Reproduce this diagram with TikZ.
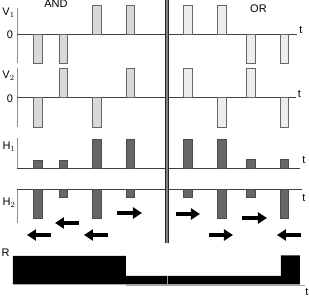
\documentclass[tikz,border=0pt]{standalone}
\usepackage{fontspec}
\setmainfont{Liberation Sans}
\usetikzlibrary{arrows.meta}
\tikzset{
  lbl/.style={inner sep=0pt, font=\fontsize{11}{13}\selectfont},
  haxis/.style={draw=black!75, line width=0.6pt},
  vaxis/.style={draw=black!45, line width=0.6pt},
  vbarand/.style={fill=black!15, draw=black!60, line width=0.6pt},
  vbaror/.style={fill=black!7, draw=black!60, line width=0.6pt},
  hbar/.style={fill=black!60, draw=black!70, line width=0.5pt},
  bigarrow/.style={line width=4.2pt, -{Triangle[length=9pt,width=11pt]}},
}
\begin{document}
\begin{tikzpicture}[x=1pt,y=-1pt]
\useasboundingbox (0,0) rectangle (309,297);
% ---- V1 ----
\draw[vaxis] (17.5,8) -- (17.5,63);
\draw[haxis] (17.5,34) -- (297,34);
\node[lbl] (v1) at (8.5,13) {V$_1$};
\node[lbl] (z1) at (10,35) {0};
\node[lbl] (t1) at (301,30) {t};
\node[lbl] (and) at (56,4) {AND};
\node[lbl] (or) at (258.5,8.5) {OR};
\draw[vbarand] (33.5,34) rectangle (42,63);
\draw[vbarand] (59,34) rectangle (67.5,63);
\draw[vbarand] (92.5,34) rectangle (101,5);
\draw[vbarand] (126,34) rectangle (134.5,5);
\draw[vbaror] (183.5,34) rectangle (192,5);
\draw[vbaror] (217.5,34) rectangle (226,5);
\draw[vbaror] (246.5,34) rectangle (255,63);
\draw[vbaror] (280,34) rectangle (288.5,63);
% ---- V2 ----
\draw[vaxis] (17.5,68) -- (17.5,127);
\draw[haxis] (17.5,97) -- (296,97);
\node[lbl] (v2) at (8.5,76) {V$_2$};
\node[lbl] (z2) at (10,98.5) {0};
\node[lbl] (t2) at (299.5,94) {t};
\draw[vbarand] (33.5,97) rectangle (42,127);
\draw[vbarand] (59,97) rectangle (67.5,68);
\draw[vbarand] (92.5,97) rectangle (101,127);
\draw[vbarand] (126,97) rectangle (134.5,68);
\draw[vbaror] (183.5,97) rectangle (192,68);
\draw[vbaror] (217.5,97) rectangle (226,127);
\draw[vbaror] (246.5,97) rectangle (255,68);
\draw[vbaror] (280,97) rectangle (288.5,127);
% ---- H1 ----
\draw[vaxis] (17.5,138) -- (17.5,168);
\draw[haxis] (17.5,168) -- (300,168);
\node[lbl] (h1) at (9,147) {H$_1$};
\node[lbl] (t3) at (304,160) {t};
\draw[hbar] (33.5,168) rectangle (42,160);
\draw[hbar] (59,168) rectangle (67.5,160);
\draw[hbar] (92.5,168) rectangle (101,139);
\draw[hbar] (126,168) rectangle (134.5,139);
\draw[hbar] (183.5,168) rectangle (192,139);
\draw[hbar] (217.5,168) rectangle (226,139);
\draw[hbar] (246.5,168) rectangle (255,159);
\draw[hbar] (280,168) rectangle (288.5,159);
% ---- H2 ----
\draw[vaxis] (17.5,189) -- (17.5,223);
\draw[haxis] (17.5,189) -- (302,189);
\node[lbl] (h2) at (9,203) {H$_2$};
\node[lbl] (t4) at (304,198) {t};
\draw[hbar] (33.5,189) rectangle (42,218);
\draw[hbar] (59,189) rectangle (67.5,197);
\draw[hbar] (92.5,189) rectangle (101,218);
\draw[hbar] (126,189) rectangle (134.5,197);
\draw[hbar] (183.5,189) rectangle (192,197);
\draw[hbar] (217.5,189) rectangle (226,218);
\draw[hbar] (246.5,189) rectangle (255,197);
\draw[hbar] (280,189) rectangle (288.5,218);
% ---- arrows ----
\coordinate (a1) at (51,235); \coordinate (a2) at (27,235);
\coordinate (b1) at (79,223); \coordinate (b2) at (55,223);
\coordinate (c1) at (108,235); \coordinate (c2) at (84,235);
\coordinate (d1) at (117,213); \coordinate (d2) at (142,213);
\coordinate (e1) at (176,214); \coordinate (e2) at (200,214);
\coordinate (f1) at (209,235); \coordinate (f2) at (233,235);
\coordinate (g1) at (242,218); \coordinate (g2) at (267,218);
\coordinate (k1) at (301,235); \coordinate (k2) at (277,235);
\draw[bigarrow] (a1) -- (a2);
\draw[bigarrow] (b1) -- (b2);
\draw[bigarrow] (c1) -- (c2);
\draw[bigarrow] (d1) -- (d2);
\draw[bigarrow] (e1) -- (e2);
\draw[bigarrow] (f1) -- (f2);
\draw[bigarrow] (g1) -- (g2);
\draw[bigarrow] (k1) -- (k2);
% ---- divider ----
\fill[black!50] (165.2,0) rectangle (169.4,243);
\draw[black!85, line width=1.3pt] (165.8,0) -- (165.8,243);
\draw[black!85, line width=1.3pt] (168.8,0) -- (168.8,243);
% ---- R ----
\node[lbl] (r) at (5.5,253) {R};
\node[lbl] (t5) at (307,292) {t};
\draw[black!35, line width=0.5pt] (126,285) -- (305,285);
\fill[black] (13,256) -- (126,256) -- (126,276) -- (281,276) -- (281,255.5) -- (300,255.5) -- (300,284.5) -- (13,284.5) -- cycle;
\draw[black!40, line width=0.7pt] (167,276) -- (167,284.5);
\end{tikzpicture}
\end{document}
